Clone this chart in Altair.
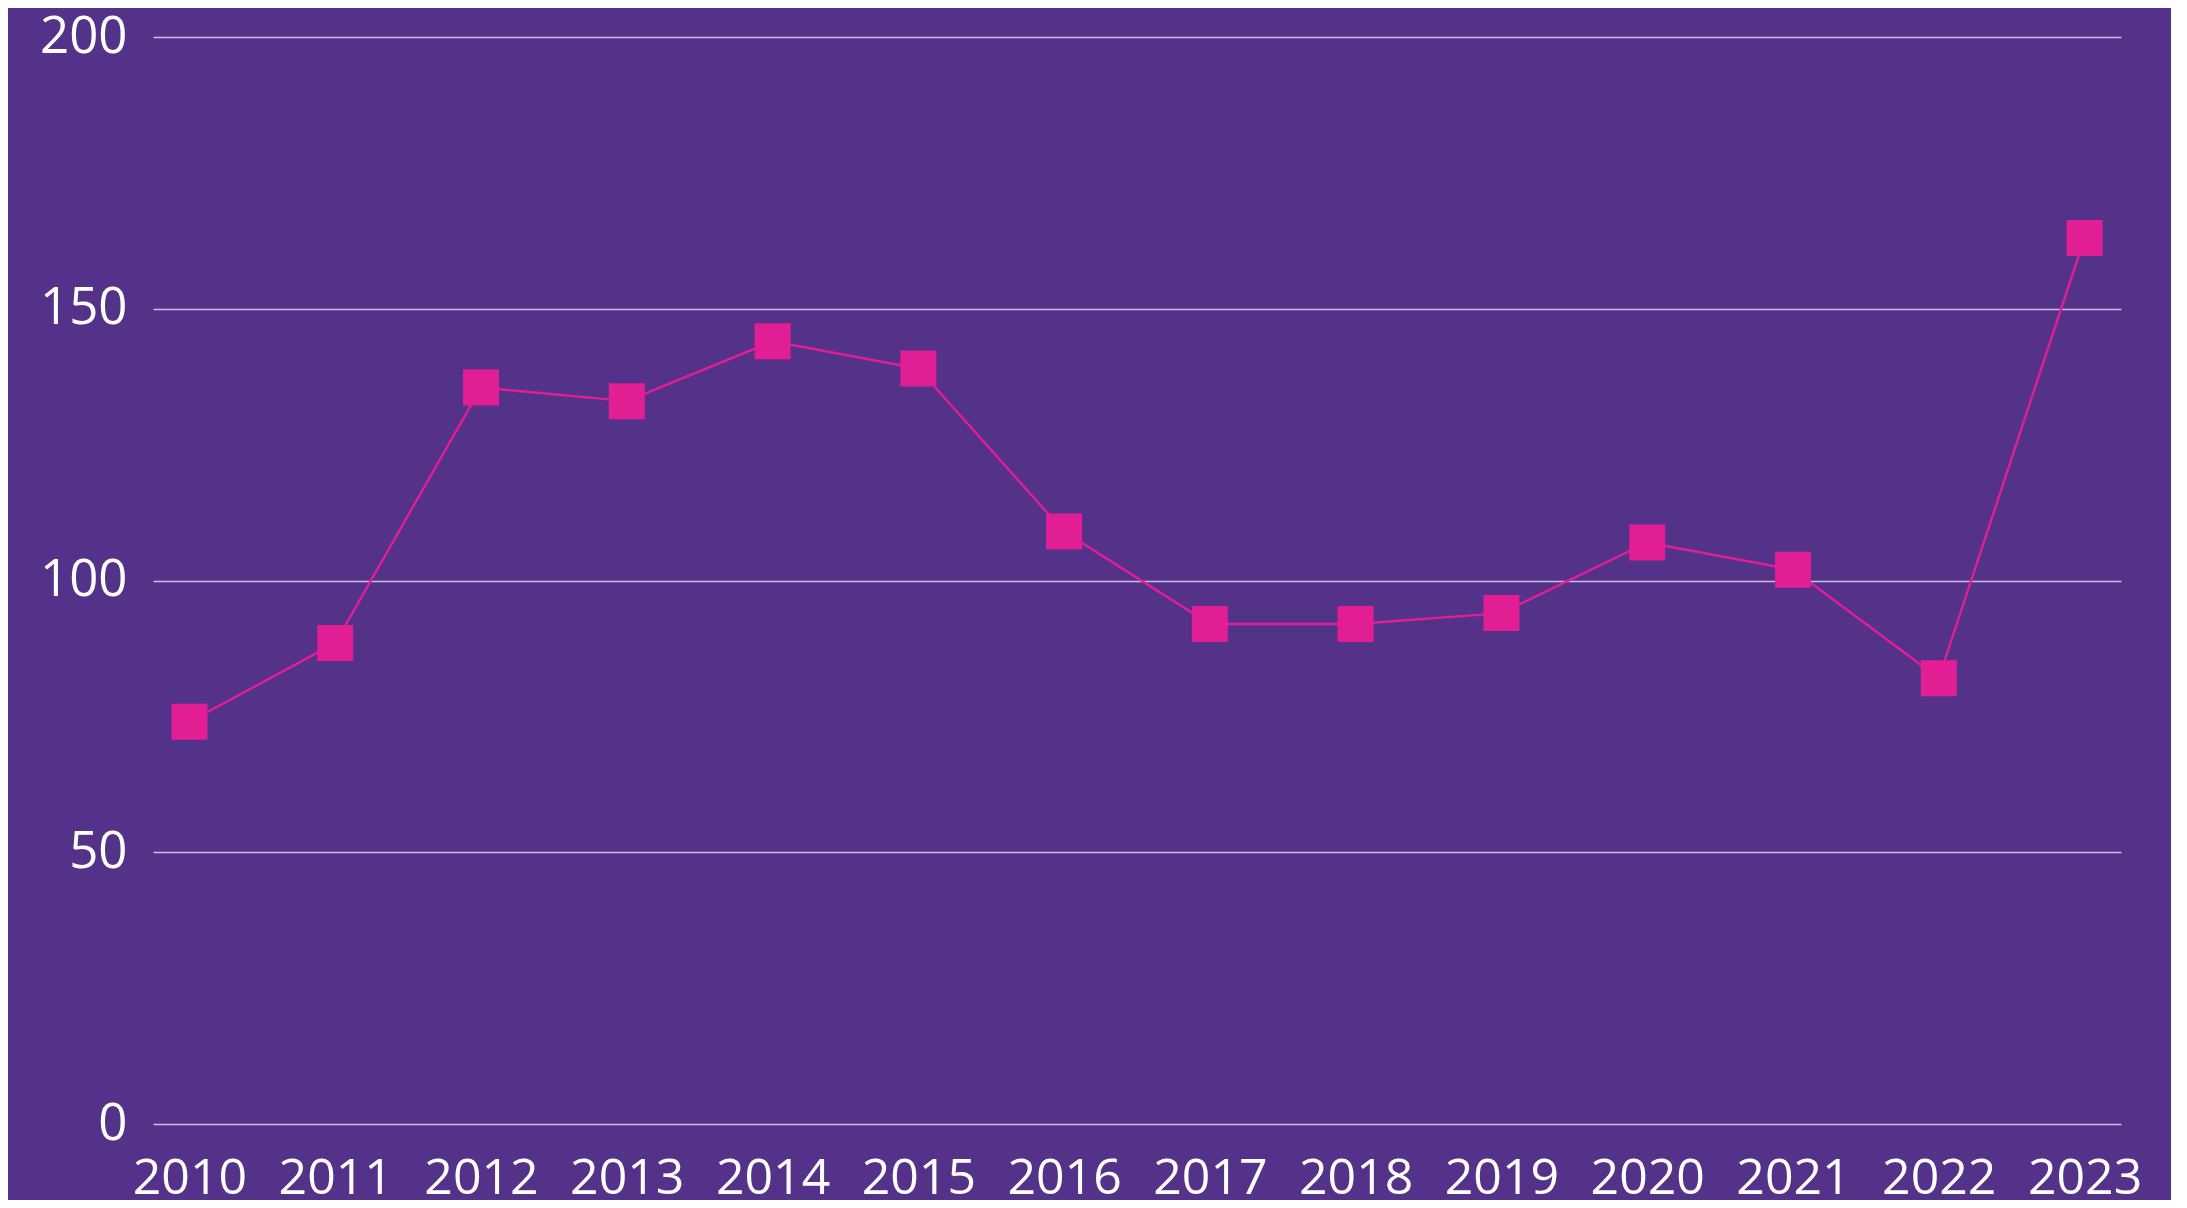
import altair as alt
import pandas as pd

years = ["2010", "2011", "2012", "2013", "2014", "2015", "2016",
         "2017", "2018", "2019", "2020", "2021", "2022", "2023"]
values = [74, 88.5, 135.5, 133, 144, 139, 109, 92, 92, 94, 107, 102, 82, 163]
y_ticks = [0, 50, 100, 150, 200]

df = pd.DataFrame({"year": years, "value": values})

BG = "#543289"
PINK = "#e21e94"

x = alt.X("year:O", title=None,
          scale=alt.Scale(type="point", padding=0.25),
          axis=alt.Axis(labelAngle=0, ticks=False, domain=False, grid=False,
                        labelPadding=29, labelFontSize=50, labelColor="#ffffff",
                        labelFont="Open Sans"))
y = alt.Y("value:Q", title=None,
          scale=alt.Scale(domain=[0, 200], nice=False),
          axis=alt.Axis(values=y_ticks, ticks=False, domain=False, grid=True,
                        gridColor="#c9bfe0", gridWidth=1.5,
                        labelPadding=26, labelFontSize=51, labelColor="#ffffff",
                        labelFont="Open Sans"))

line = alt.Chart(df).mark_line(color=PINK, strokeWidth=2.4).encode(x=x, y=y)
pts = alt.Chart(df).mark_square(color=PINK, size=1296, opacity=1).encode(x=x, y=y)

chart = (line + pts).properties(
    width=1968, height=1087,
    autosize="none",
    padding={"left": 145, "top": 29, "right": 50, "bottom": 76},
    background=BG,
).configure_view(stroke=None)

chart.save("out.html", embed_options={"renderer": "svg", "actions": False})
